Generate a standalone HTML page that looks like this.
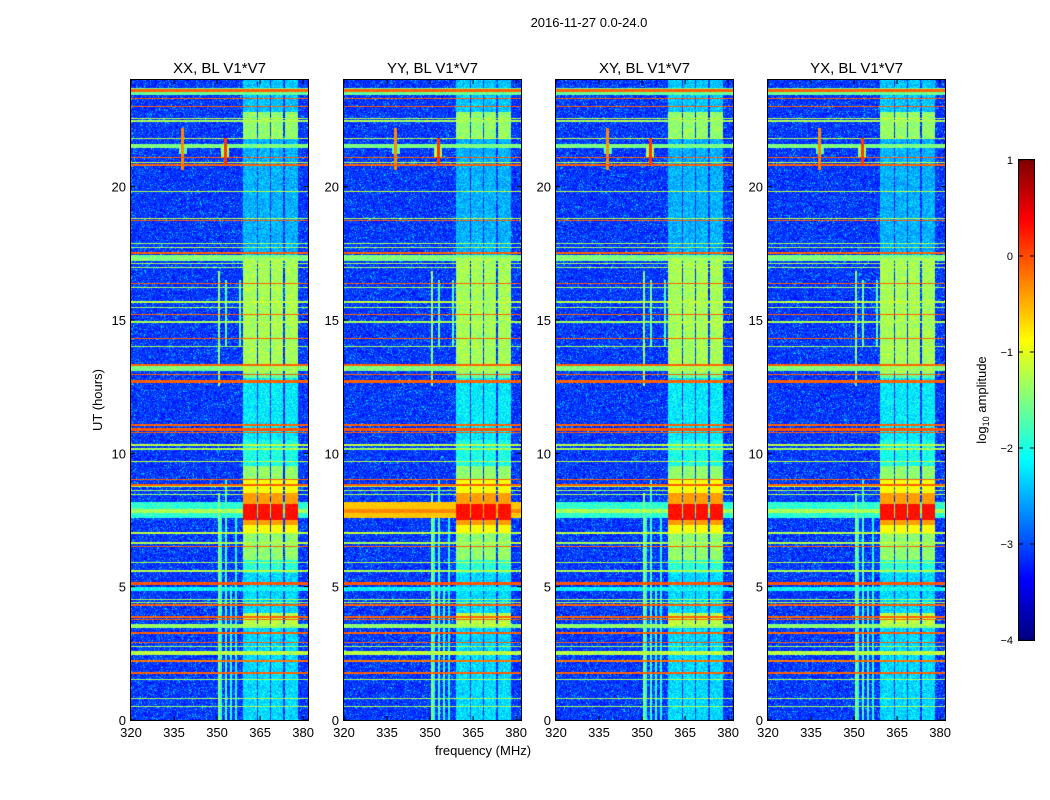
<!DOCTYPE html>
<html><head><meta charset="utf-8">
<style>
body{margin:0;background:#fff;width:1050px;height:800px;overflow:hidden;font-family:"Liberation Sans",sans-serif;}
#wrap{position:relative;width:1050px;height:800px;}
canvas{position:absolute;}
svg{position:absolute;left:0;top:0;}
</style></head><body>
<div id="wrap">
<svg id="ov" width="1050" height="800"></svg>
</div>
<script>
// ---- data ----
const panelTitles = ["XX, BL V1*V7","YY, BL V1*V7","XY, BL V1*V7","YX, BL V1*V7"];
const freqMin = 320, freqMax = 381.7, timeMin = 0, timeMax = 24;
const xTicks = [320,335,350,365,380];
const yTicks = [0,5,10,15,20];
const cbTicks = [1,0,-1,-2,-3,-4];
const cbTickLabels = ["1","0","\u22121","\u22122","\u22123","\u22124"];
const bgLevel = -3.1;
// horizontal RFI lines: time (h), level (log10 amp), thickness (h)
const hTimes  = [23.6,23.55,23.3,23.0,22.55,22.45,21.8,21.5,21.07,20.9,20.8,19.8,18.8,18.7,17.85,17.7,17.5,17.3,17.1,16.95,16.35,16.2,15.65,15.45,15.2,14.9,14.3,14.0,13.3,13.15,12.95,12.7,12.65,11.05,10.87,10.76,10.3,10.15,9.67,9.0,8.8,8.74,8.6,8.45,7.0,6.65,6.6,6.5,5.9,5.6,5.55,5.1,4.9,4.5,4.4,4.3,3.85,3.75,3.5,3.25,2.9,2.75,2.5,2.2,1.75,1.5,0.8,0.5];
const hLevels = [-0.1,-1.6,-0.1,-0.1,-1.2,-1.3,-1.2,-1.5,-0.1,-1.2,-0.1,-1.2,-1.2,-0.1,-1.3,-1.3,-0.1,-1.5,-1.3,-1.3,-0.1,-1.3,-1.2,-1.3,-0.1,-1.3,-0.1,-1.3,-0.1,-1.5,-0.1,-0.1,-0.1,-0.1,-0.05,-0.1,-1.2,-1.3,-1.2,-0.1,-0.1,-1.2,-1.3,-1.3,-1.2,-1.2,-1.3,-0.1,-1.3,-1.2,-1.3,-0.05,-2.1,-1.3,-1.3,-0.1,-0.1,-0.1,-1.4,-0.1,-0.1,-1.3,-1.2,-0.2,-0.1,-1.3,-1.3,-1.3];
const hWidths = [0.12,0.25,0.05,0.05,0.05,0.05,0.05,0.15,0.05,0.05,0.05,0.05,0.05,0.05,0.05,0.05,0.05,0.2,0.05,0.05,0.05,0.05,0.05,0.05,0.05,0.05,0.05,0.05,0.05,0.2,0.05,0.05,0.05,0.05,0.1,0.05,0.05,0.05,0.05,0.05,0.05,0.05,0.05,0.05,0.05,0.05,0.05,0.05,0.05,0.05,0.05,0.1,0.15,0.05,0.05,0.05,0.05,0.05,0.15,0.05,0.05,0.05,0.15,0.05,0.08,0.05,0.05,0.05];
// broadband event near 7.8 h (level per panel)
const broadStart = 7.55, broadEnd = 8.15;
const broadLevels = [-1.9,-0.6,-1.9,-1.9];
const broadCoreLevels = [-1.3,-0.3,-1.3,-1.3];
// channel bands (MHz)
const bandStart = [359.2,364.3,368.9,373.8];
const bandEnd   = [363.7,368.2,372.9,377.9];
// band time segments
const segStart = [0,3.5,4.0,5.5,6.0,7.0,7.3,7.5,8.1,8.5,9.0,9.5,10.5,12.8,13.0,17.3,21.8,22.8];
const segEnd   = [3.5,4.0,5.5,6.0,7.0,7.3,7.5,8.1,8.5,9.0,9.5,10.5,12.8,13.0,17.3,21.8,22.8,24];
const segLevels= [-2.3,-1.2,-2.3,-1.9,-1.4,-0.9,-0.4,0.3,-0.4,-0.9,-1.4,-2.0,-2.2,-1.6,-1.3,-2.5,-1.4,-2.4];
// vertical lines
const vFreqs  = [350.6,350.6,351.3,352.8,352.8,354.8,356.5,357.8];
const vStarts = [0,12.5,0,0,14,0,0,14];
const vEnds   = [8.5,16.8,8,9,16.5,5,8,16.5];
const vLevels = [-1.5,-1.4,-1.9,-1.8,-1.6,-1.9,-2.0,-1.7];
// point sources
const srcFreqs = [338,352.8];
const srcT0 = [20.6,20.8];
const srcT1 = [22.2,21.8];
const srcLevels = [-0.3,0.1];

const panelLeft=[131,344,556,768], pTop=80, pW=177, pH=640;
const NS="http://www.w3.org/2000/svg";
const svg=document.getElementById('ov');
const wrap=document.getElementById('wrap');

function jet(v){v=Math.max(0,Math.min(1,v));
 const r=Math.max(0,Math.min(1,1.5-Math.abs(4*v-3)));
 const g=Math.max(0,Math.min(1,1.5-Math.abs(4*v-2)));
 const b=Math.max(0,Math.min(1,1.5-Math.abs(4*v-1)));
 return [r*255|0,g*255|0,b*255|0];}
function norm(L){return (L+4)/5;}
function xs(f){return (f-freqMin)/(freqMax-freqMin)*pW;}
function ys(t){return pH-(t-timeMin)/(timeMax-timeMin)*pH;}
function hash(x,y,p){let h=(x*374761393+y*668265263+p*2246822519)|0;h=(h^(h>>>13))*1274126177|0;return ((h^(h>>>16))>>>0)/4294967296;}

function txt(x,y,s,size,anchor,name,extra){const t=document.createElementNS(NS,'text');
 t.setAttribute('x',x);t.setAttribute('y',y);t.setAttribute('font-size',size);t.setAttribute('text-anchor',anchor||'middle');
 t.setAttribute('font-family','Liberation Sans, sans-serif');if(extra)t.setAttribute('transform',extra);
 t.textContent=s;
 
 
 svg.appendChild(t);return t;}
function line(x1,y1,x2,y2,name){const l=document.createElementNS(NS,'line');
 l.setAttribute('x1',x1);l.setAttribute('y1',y1);l.setAttribute('x2',x2);l.setAttribute('y2',y2);l.setAttribute('stroke','#000');l.setAttribute('stroke-width','1');
 
 
 svg.appendChild(l);}

for(let p=0;p<4;p++){
 const cv=document.createElement('canvas');cv.width=pW;cv.height=pH;
 cv.style.left=panelLeft[p]+'px';cv.style.top=pTop+'px';
 
 
 wrap.insertBefore(cv,svg);
 const ctx=cv.getContext('2d');
 const L=new Float32Array(pW*pH).fill(bgLevel);
 function fillRect(f0,f1,t0,t1,lev,maxMode){
  const x0=Math.max(0,Math.floor(xs(f0))),x1=Math.min(pW,Math.ceil(xs(f1)));
  const y0=Math.max(0,Math.floor(ys(t1))),y1=Math.min(pH,Math.max(Math.floor(ys(t0)),Math.floor(ys(t1))+1));
  for(let y=y0;y<y1;y++)for(let x=x0;x<x1;x++){const i=y*pW+x;L[i]=maxMode?Math.max(L[i],lev):lev;}}
 for(let i=0;i<vFreqs.length;i++) fillRect(vFreqs[i],vFreqs[i]+0.35,vStarts[i],vEnds[i],vLevels[i],true);
 for(let b=0;b<bandStart.length;b++) for(let s=0;s<segStart.length;s++) fillRect(bandStart[b],bandEnd[b],segStart[s],segEnd[s],segLevels[s],true);
 fillRect(freqMin,freqMax,broadStart,broadEnd,broadLevels[p],true);
 fillRect(freqMin,freqMax,7.75,7.9,broadCoreLevels[p],true);
 for(let i=0;i<srcFreqs.length;i++){fillRect(srcFreqs[i]-0.3,srcFreqs[i]+0.4,srcT0[i],srcT1[i],srcLevels[i],true);
   fillRect(srcFreqs[i]-1.2,srcFreqs[i]+1.2,(srcT0[i]+srcT1[i])/2-0.2,(srcT0[i]+srcT1[i])/2+0.2,srcLevels[i]-1.4,true);}
 for(let i=0;i<hTimes.length;i++) fillRect(freqMin,freqMax,hTimes[i]-hWidths[i]/2,hTimes[i]+hWidths[i]/2,hLevels[i],true);
 const img=ctx.createImageData(pW,pH);
 for(let y=0;y<pH;y++)for(let x=0;x<pW;x++){const i=y*pW+x;
  const h=hash(x,y,p);
  const n=(h-0.5)*0.6*(L[i]<-1.0?1:0.3)+(h>0.93&&L[i]<-2.5?0.45:0);
  const c=jet(norm(L[i]+n));img.data[i*4]=c[0];img.data[i*4+1]=c[1];img.data[i*4+2]=c[2];img.data[i*4+3]=255;}
 ctx.putImageData(img,0,0);
 // frame
 const r=document.createElementNS(NS,'rect');r.setAttribute('x',panelLeft[p]-0.5);r.setAttribute('y',pTop-0.5);r.setAttribute('width',pW+1);r.setAttribute('height',pH+1);
 r.setAttribute('fill','none');r.setAttribute('stroke','#000');
 
 
 svg.appendChild(r);
 txt(panelLeft[p]+pW/2,73,panelTitles[p],15,'middle','panel-title');
 xTicks.forEach(v=>{const x=panelLeft[p]+xs(v);line(x,pTop+pH,x,pTop+pH-4,'x-tick');line(x,pTop,x,pTop+4,'x-tick');
   txt(x,737,String(v),13,'middle','x-tick-label');});
 yTicks.forEach(v=>{const y=pTop+ys(v);line(panelLeft[p],y,panelLeft[p]+4,y,'y-tick');line(panelLeft[p]+pW,y,panelLeft[p]+pW-4,y,'y-tick');
   txt(panelLeft[p]-5,y+5,String(v),13,'end','y-tick-label');});
}
txt(589,27,"2016-11-27 0.0-24.0",13,'middle','figure-title');
txt(483,755,"frequency (MHz)",13,'middle','x-axis-title');
txt(102,400,"UT (hours)",13,'middle','y-axis-title','rotate(-90 102 400)');
// colorbar
const cb=document.createElement('canvas');cb.width=15;cb.height=480;cb.style.left='1019px';cb.style.top='160px';


wrap.insertBefore(cb,svg);
const cctx=cb.getContext('2d');
for(let y=0;y<480;y++){const c=jet(1-y/479);cctx.fillStyle=`rgb(${c[0]},${c[1]},${c[2]})`;cctx.fillRect(0,y,15,1);}
const cr=document.createElementNS(NS,'rect');cr.setAttribute('x',1018.5);cr.setAttribute('y',159.5);cr.setAttribute('width',16);cr.setAttribute('height',481);cr.setAttribute('fill','none');cr.setAttribute('stroke','#000');


svg.appendChild(cr);
cbTicks.forEach((v,i)=>{const y=160+(1-v)/5*480;line(1019,y,1023,y,'colorbar-tick');line(1030,y,1034,y,'colorbar-tick');
  txt(1013,y+4,cbTickLabels[i],11,'end','colorbar-tick-label');});
const lab=txt(986,400,"",13,'middle','colorbar-label','rotate(-90 986 400)');
lab.innerHTML='log<tspan font-size="9" dy="3">10</tspan><tspan dy="-3"> amplitude</tspan>';
</script>
</body></html>
